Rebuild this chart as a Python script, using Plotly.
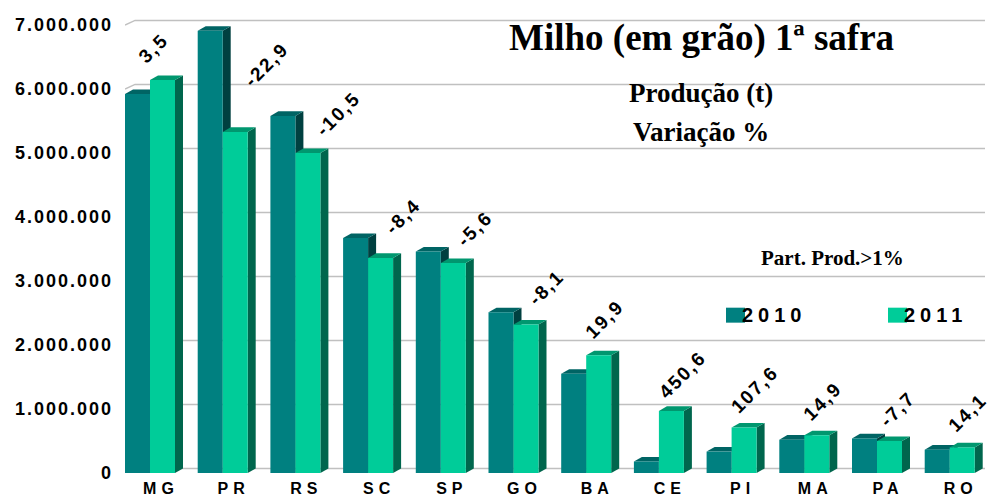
import plotly.graph_objects as go

categories = ["MG", "PR", "RS", "SC", "SP", "GO", "BA", "CE", "PI", "MA", "PA", "RO"]
prod_2010 = [5920000, 6910000, 5580000, 3670000, 3460000, 2510000, 1550000, 180000, 335000, 520000, 540000, 365000]
prod_2011 = [6140000, 5330000, 5000000, 3360000, 3280000, 2320000, 1840000, 970000, 710000, 590000, 500000, 400000]
variation = ["3,5", "-22,9", "-10,5", "-8,4", "-5,6", "-8,1", "19,9", "450,6", "107,6", "14,9", "-7,7", "14,1"]
y_ticks = [0, 1000000, 2000000, 3000000, 4000000, 5000000, 6000000, 7000000]
y_tick_labels = ["0", "1.000.000", "2.000.000", "3.000.000", "4.000.000", "5.000.000", "6.000.000", "7.000.000"]
label_dx = [3, 44, 43, 35, 34, 33, 18, 24, 23, 18, 20, 18]
label_dy = [32, 67, 40, 41, 35, 37, 36, 36, 38, 34, 32, 35]

W, H = 994, 497
L, R, T, B = 125, 9, 10, 23.5
STEP = 72.7                # px per category
PXM = 64.07e-6             # px per tonne
x0 = -25 / STEP
x1 = x0 + (W - L - R) / STEP
ymax = (H - T - B) / PXM
DX, DY = 8 / STEP, 4.6 / PXM
BW1, BW2 = 25 / STEP, 25 / STEP
GAP = 0 / STEP

C10 = dict(front="#008080", top="#006464", side="#004040")
C11 = dict(front="#00CC99", top="#00976F", side="#00664D")
SERIF, SANS = "Liberation Serif", "Liberation Sans"


def px(x):
    return (x - L) / (W - L - R)


def py(y):
    return (H - B - y) / (H - T - B)


def poly(pts, color):
    d = "M" + " L".join(f"{x},{y}" for x, y in pts) + " Z"
    return dict(type="path", path=d, xref="x", yref="y", layer="below",
                fillcolor=color, line=dict(width=0))


shapes = []
for v in y_ticks:
    d = f"M{x0},{v} L{x0 + 10 / STEP},{v + DY} L{x1},{v + DY}"
    shapes.append(dict(type="path", path=d, xref="x", yref="y", layer="below",
                       line=dict(color="#C0C0C0", width=1.5)))

for i in range(len(categories)):
    for a, b, v, c in ((i + GAP - BW1, i + GAP, prod_2010[i], C10),
                       (i + GAP, i + GAP + BW2, prod_2011[i], C11)):
        shapes.append(poly([(b, 0), (b + DX, DY), (b + DX, v + DY), (b, v)], c["side"]))
        shapes.append(poly([(a, v), (a + DX, v + DY), (b + DX, v + DY), (b, v)], c["top"]))

fig = go.Figure()
fig.add_bar(x=list(range(12)), y=prod_2010, name="2010", width=BW1, offset=GAP - BW1,
            marker=dict(color=C10["front"], line=dict(width=0)), showlegend=False)
fig.add_bar(x=list(range(12)), y=prod_2011, name="2011", width=BW2, offset=GAP,
            marker=dict(color=C11["front"], line=dict(width=0)), showlegend=False)

ann = []
for i, t in enumerate(variation):
    ann.append(dict(x=i, y=prod_2011[i], xref="x", yref="y", text=f"<b>{t}</b>", showarrow=False,
                    xshift=label_dx[i], yshift=label_dy[i], textangle=-45,
                    font=dict(family=SANS, size=19, color="black"),
                    xanchor="center", yanchor="middle"))


def ptxt(x, y, t, family, size, anchor="center"):
    ann.append(dict(x=px(x), y=py(y), xref="paper", yref="paper", text=f"<b>{t}</b>",
                    showarrow=False, xanchor=anchor, yanchor="middle",
                    font=dict(family=family, size=size, color="black")))


fig.update_layout(
    width=W, height=H, autosize=False, paper_bgcolor="white", plot_bgcolor="white",
    margin=dict(l=L, r=R, t=T, b=B), barmode="overlay", showlegend=False,
    xaxis=dict(range=[x0, x1], tickmode="array", tickvals=list(range(12)), ticktext=categories,
               showgrid=False, zeroline=False, showline=False, ticks="", ticklabelshift=11,
               ticklabelstandoff=4, automargin=False,
               tickfont=dict(family=SANS, size=16, color="black", weight="bold")),
    yaxis=dict(range=[0, ymax], tickmode="array", tickvals=y_ticks, ticktext=y_tick_labels,
               showgrid=False, zeroline=False, showline=False, ticks="", ticklabelstandoff=11,
               automargin=False,
               tickfont=dict(family=SANS, size=18, color="black", weight="bold")),
    shapes=shapes,
)

# Paper-level text and legend keys
ptxt(701, 38, "Milho (em grão) 1ª safra", SERIF, 37)
ptxt(701, 93, "Produção (t)", SERIF, 27)
ptxt(701, 132, "Variação %", SERIF, 27)
ptxt(832, 258, "Part. Prod.>1%", SERIF, 21)
for name, x, c in (("2010", 750, C10), ("2011", 912, C11)):
    ptxt(x, 315, name, SANS, 20, "left")
    fig.add_shape(type="rect", xref="paper", yref="paper", x0=px(x - 24), x1=px(x - 5),
                  y0=py(323), y1=py(308), fillcolor=c["front"], line=dict(width=0))

fig.update_layout(annotations=ann)

css = """
document.documentElement.style.margin='0';
document.body.style.margin='0';
var s=document.createElement('style');
s.textContent='.xtick text{letter-spacing:5px}.ytick text{letter-spacing:2px}'
+'.annotation text[style*="Sans"]{letter-spacing:2px}'
+'.annotation[data-index="16"] text,.annotation[data-index="17"] text{letter-spacing:5px !important}';
document.head.appendChild(s);
"""
fig.write_html("out.html", post_script=css, config=dict(displayModeBar=False))
